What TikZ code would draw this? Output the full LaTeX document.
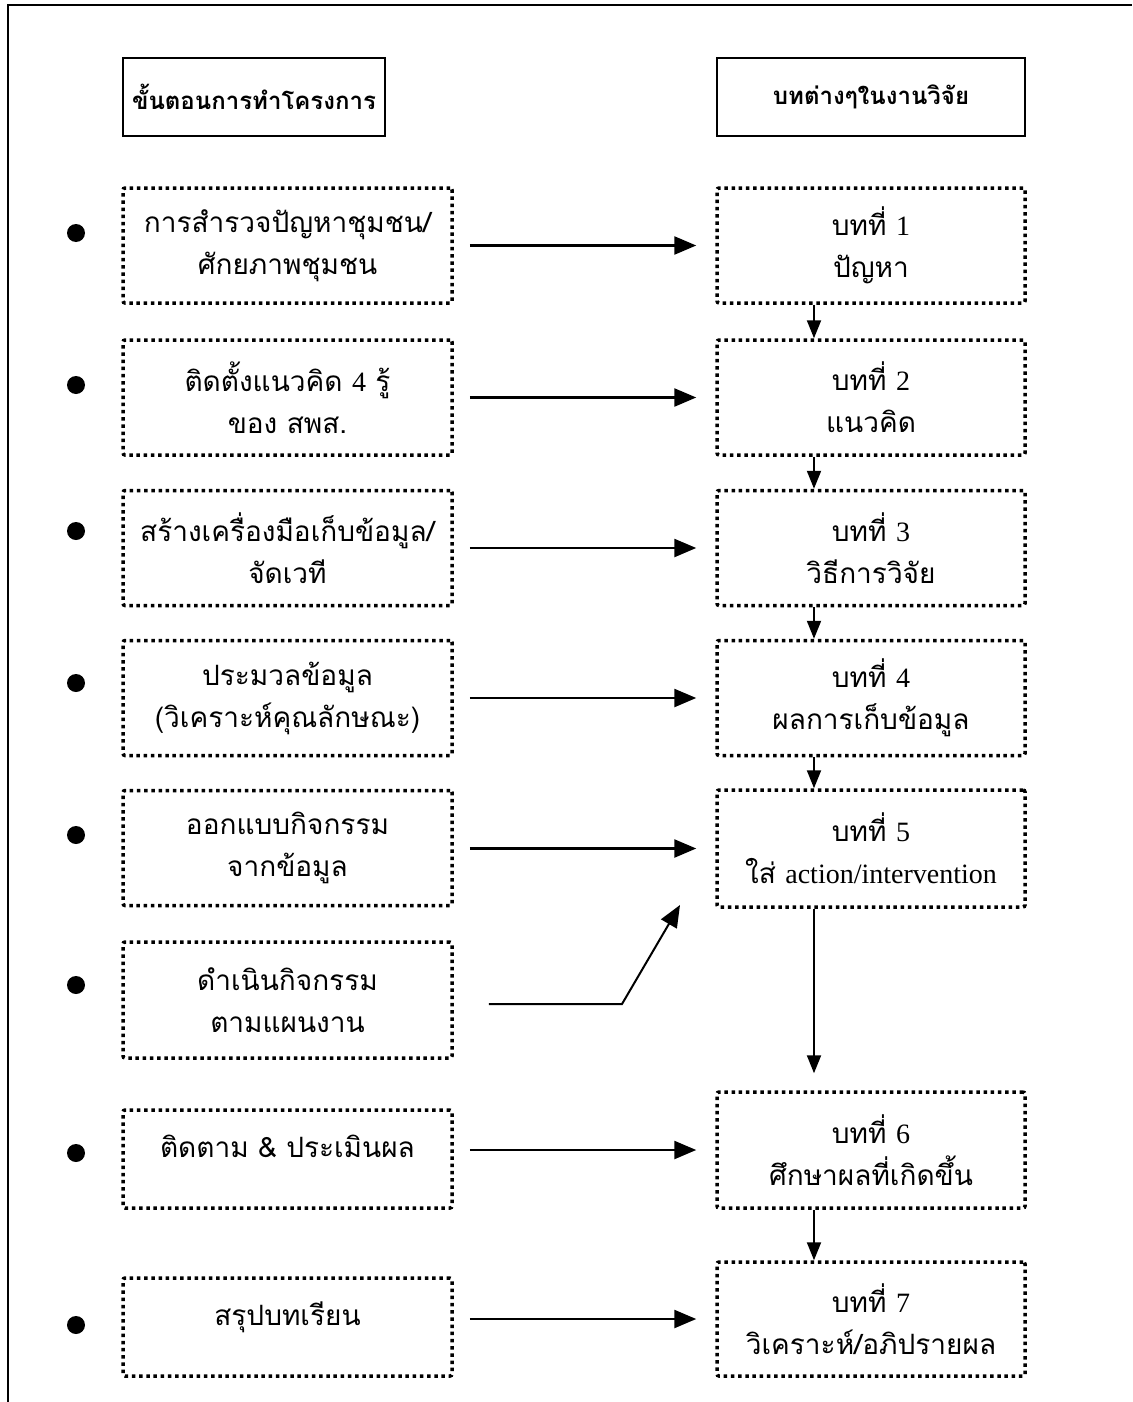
\documentclass[tikz,border=0pt]{standalone}
\usepackage{fontspec}
\setmainfont{Liberation Serif}
\newfontfamily\thaifont[Script=Thai]{Loma}
\usetikzlibrary{arrows.meta}
\newcommand{\lat}[1]{{\rmfamily #1}}

\begin{document}
\begin{tikzpicture}[x=1pt,y=-1pt,
    headbox/.style={draw,line width=2pt,minimum height=78pt,
      font=\thaifont\bfseries\fontsize{24}{30}\selectfont},
    stepbox/.style={draw,line width=3.5pt,dash pattern=on 3.5pt off 3.7pt,
      rounded corners=2pt,align=center,minimum width=329pt,minimum height=115pt,
      font=\thaifont\fontsize{28}{42}\selectfont},
    chapbox/.style={stepbox,minimum width=308pt},
    dot/.style={circle,fill,inner sep=0pt,minimum size=18pt},
    link/.style={line width=2.5pt,-{Triangle[length=22pt,width=18pt]},
      shorten <=16pt,shorten >=19pt},
    down/.style={line width=2pt,-{Triangle[length=18pt,width=14pt]}}]
  \useasboundingbox (0,0) rectangle (1132,1402);
  % frame
  \draw[line width=2pt] (8,1402) -- (8,5) -- (1132,5);
  % headers
  \node[headbox,minimum width=262pt] (hl) at (254,97) {ขั้นตอนการทำโครงการ};
  \node[headbox,minimum width=308pt] (hr) at (871,97) {บทต่างๆในงานวิจัย};
  % steps of the project
  \node[stepbox] (s1) at (287.5,245.5) {การสำรวจปัญหาชุมชน/\\ศักยภาพชุมชน};
  \node[stepbox] (s2) at (287.5,397.5) {ติดตั้งแนวคิด \lat{4} รู้\\ของ สพส.};
  \node[stepbox] (s3) at (287.5,548) {สร้างเครื่องมือเก็บข้อมูล/\\จัดเวที};
  \node[stepbox] (s4) at (287.5,698) {ประมวลข้อมูล\\(วิเคราะห์คุณลักษณะ)};
  \node[stepbox] (s5) at (287.5,848) {ออกแบบกิจกรรม\\จากข้อมูล};
  \node[stepbox,minimum height=116pt] (s6) at (287.5,1000) {ดำเนินกิจกรรม\\ตามแผนงาน};
  \node[stepbox,minimum height=98pt,text depth=26pt] (s7) at (287.5,1159) {ติดตาม \& ประเมินผล};
  \node[stepbox,minimum height=98pt,text depth=26pt] (s8) at (287.5,1327) {สรุปบทเรียน};
  % bullets
  \node[dot] (b1) at (76,233) {};
  \node[dot] (b2) at (76,385) {};
  \node[dot] (b3) at (76,531) {};
  \node[dot] (b4) at (76,683) {};
  \node[dot] (b5) at (76,835) {};
  \node[dot] (b6) at (76,985) {};
  \node[dot] (b7) at (76,1153) {};
  \node[dot] (b8) at (76,1325) {};
  % chapters
  \node[chapbox] (c1) at (871,245.5) {บทที่ \lat{1}\\ปัญหา};
  \node[chapbox] (c2) at (871,397.5) {บทที่ \lat{2}\\แนวคิด};
  \node[chapbox] (c3) at (871,548) {บทที่ \lat{3}\\วิธีการวิจัย};
  \node[chapbox] (c4) at (871,698) {บทที่ \lat{4}\\ผลการเก็บข้อมูล};
  \node[chapbox,minimum height=117pt] (c5) at (871,848.5) {บทที่ \lat{5}\\ใส่ \lat{action/intervention}};
  \node[chapbox,minimum height=116pt] (c6) at (871,1150) {บทที่ \lat{6}\\ศึกษาผลที่เกิดขึ้น};
  \node[chapbox,minimum height=114pt] (c7) at (871,1319) {บทที่ \lat{7}\\วิเคราะห์/อภิปรายผล};
  % arrows step -> chapter
  \draw[link] (s1.east |- c1.west) -- (c1.west);
  \draw[link] (s2.east |- c2.west) -- (c2.west);
  \draw[link] (s3.east |- c3.west) -- (c3.west);
  \draw[link] (s4.east |- c4.west) -- (c4.west);
  \draw[link] (s5.east |- c5.west) -- (c5.west);
  \draw[link] (s7.east |- c6.west) -- (c6.west);
  \draw[link] (s8.east |- c7.west) -- (c7.west);
  \coordinate (bend) at (622,1004);
  \coordinate (tip) at (680,905);
  \draw[line width=2pt,-{Triangle[length=22pt,width=18pt]}]
    (s6.east |- bend) [shorten <=35pt] -- (bend) -- (tip);
  % chapter chain
  \coordinate (vx) at (814,0);
  \draw[down] (c1.south -| vx) -- (c2.north -| vx);
  \draw[down] (c2.south -| vx) -- (c3.north -| vx);
  \draw[down] (c3.south -| vx) -- (c4.north -| vx);
  \draw[down] (c4.south -| vx) -- (c5.north -| vx);
  \draw[down,shorten >=17pt] (c5.south -| vx) -- (c6.north -| vx);
  \draw[down] (c6.south -| vx) -- (c7.north -| vx);
\end{tikzpicture}
\end{document}
